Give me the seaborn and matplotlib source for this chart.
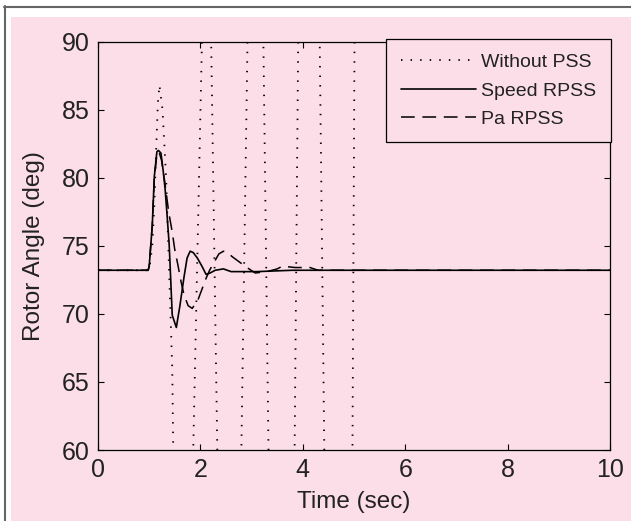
import numpy as np
import pandas as pd
import matplotlib
matplotlib.use("Agg")
import matplotlib.pyplot as plt
import seaborn as sns
from matplotlib.patches import Rectangle
from matplotlib.lines import Line2D

# rotor angle responses (time in sec, angle in deg)
t_without = [0.0, 1.0, 1.06, 1.1, 1.14, 1.17, 1.2, 1.26, 1.33, 1.45, 1.47, 1.65,
             1.86, 2.03, 2.12, 2.21, 2.33, 2.58, 2.80, 2.92, 3.07, 3.23, 3.33,
             3.57, 3.84, 3.91, 4.1, 4.33, 4.42, 4.7, 4.97, 5.01, 5.3, 10.0]
ang_without = [73.2, 73.2, 75.0, 78.0, 82.5, 85.5, 86.8, 85.0, 80.0, 66.0, 60.0, 20.0,
               60.0, 90.0, 120.0, 90.0, 60.0, 20.0, 60.0, 90.0, 120.0, 90.0, 60.0,
               20.0, 60.0, 90.0, 120.0, 90.0, 60.0, 20.0, 60.0, 90.0, 200.0, 500.0]

t_speed = [0.0, 0.98, 1.0, 1.06, 1.1, 1.15, 1.18, 1.23, 1.27, 1.31, 1.35, 1.39,
           1.41, 1.45, 1.53, 1.6, 1.68, 1.74, 1.8, 1.86, 1.94, 2.03, 2.11, 2.19,
           2.29, 2.45, 2.6, 3.1, 3.8, 10.0]
ang_speed = [73.2, 73.2, 73.5, 76.5, 80.1, 81.9, 82.0, 81.8, 80.6, 79.2, 77.2, 75.1,
             73.4, 69.9, 69.0, 70.6, 72.7, 74.1, 74.6, 74.5, 74.1, 73.5, 72.9, 73.0,
             73.2, 73.3, 73.1, 73.1, 73.2, 73.2]

t_pa = [0.0, 0.98, 1.0, 1.06, 1.1, 1.15, 1.19, 1.24, 1.3, 1.38, 1.45, 1.5, 1.56,
        1.62, 1.68, 1.76, 1.84, 1.95, 2.05, 2.11, 2.18, 2.3, 2.36, 2.45, 2.53,
        2.62, 2.8, 2.95, 3.07, 3.3, 3.5, 3.6, 3.85, 4.14, 4.3, 10.0]
ang_pa = [73.2, 73.2, 73.5, 76.5, 80.0, 81.7, 81.9, 81.3, 79.8, 77.5, 76.0, 74.7, 73.6,
          72.4, 71.4, 70.6, 70.4, 71.0, 72.0, 72.6, 73.2, 74.0, 74.4, 74.6, 74.5,
          74.2, 73.7, 73.3, 73.0, 73.1, 73.3, 73.5, 73.4, 73.4, 73.2, 73.2]

pink = "#FCDEE8"
ink = "#222222"

sns.set_style("ticks")
plt.rcParams["font.family"] = ["Liberation Sans", "DejaVu Sans"]

fig = plt.figure(figsize=(6.31, 5.21), dpi=100, facecolor="white")
fig.patches.append(Rectangle((11 / 631, 0), 1, 1 - 17 / 521, transform=fig.transFigure,
                             facecolor=pink, edgecolor="none", zorder=-2))
fig.lines.append(Line2D([4 / 631, 1], [1 - 6.5 / 521] * 2, transform=fig.transFigure,
                        color="#666666", lw=1.5, zorder=-2))
fig.lines.append(Line2D([4.5 / 631] * 2, [0, 1 - 6 / 521], transform=fig.transFigure,
                        color="#666666", lw=1.5, zorder=-2))

ax = fig.add_axes([98 / 631, 1 - 450 / 521, 512 / 631, 408.5 / 521])
ax.set_facecolor(pink)

df_without = pd.DataFrame({"t": t_without, "angle": ang_without})
df_speed = pd.DataFrame({"t": t_speed, "angle": ang_speed})
df_pa = pd.DataFrame({"t": t_pa, "angle": ang_pa})

sns.lineplot(data=df_without, x="t", y="angle", ax=ax, color="black", lw=1.3,
             linestyle=(0, (0.8, 4.5)), estimator=None, label="Without PSS")
sns.lineplot(data=df_speed, x="t", y="angle", ax=ax, color="black", lw=1.2,
             estimator=None, label="Speed RPSS")
sns.lineplot(data=df_pa, x="t", y="angle", ax=ax, color="black", lw=1.1,
             linestyle=(0, (9, 5)), estimator=None, label="Pa RPSS")

ax.set_xlim(0, 10)
ax.set_ylim(60, 90)
ax.set_xticks([0, 2, 4, 6, 8, 10])
ax.set_yticks([60, 65, 70, 75, 80, 85, 90])
ax.tick_params(direction="in", length=4, width=0.8, top=True, right=True,
               labelsize=18, colors="black", labelcolor=ink, pad=6)
for s in ax.spines.values():
    s.set_color("black")
    s.set_linewidth(0.9)

ax.set_xlabel("Time (sec)", fontsize=17.5, labelpad=6, color=ink)
ax.set_ylabel("Rotor Angle (deg)", fontsize=17.5, labelpad=12, color=ink)

leg = ax.legend(loc="upper right", bbox_to_anchor=(611 / 631, 1 - 39 / 521),
                bbox_transform=fig.transFigure, borderaxespad=0, fontsize=14,
                frameon=True, fancybox=False, framealpha=1, facecolor=pink,
                edgecolor="black", handlelength=3.9, handletextpad=0.25,
                labelspacing=0.55, borderpad=0.75, labelcolor=ink)
leg.get_frame().set_linewidth(0.9)

fig.savefig("out.png", dpi=100, facecolor="white")
